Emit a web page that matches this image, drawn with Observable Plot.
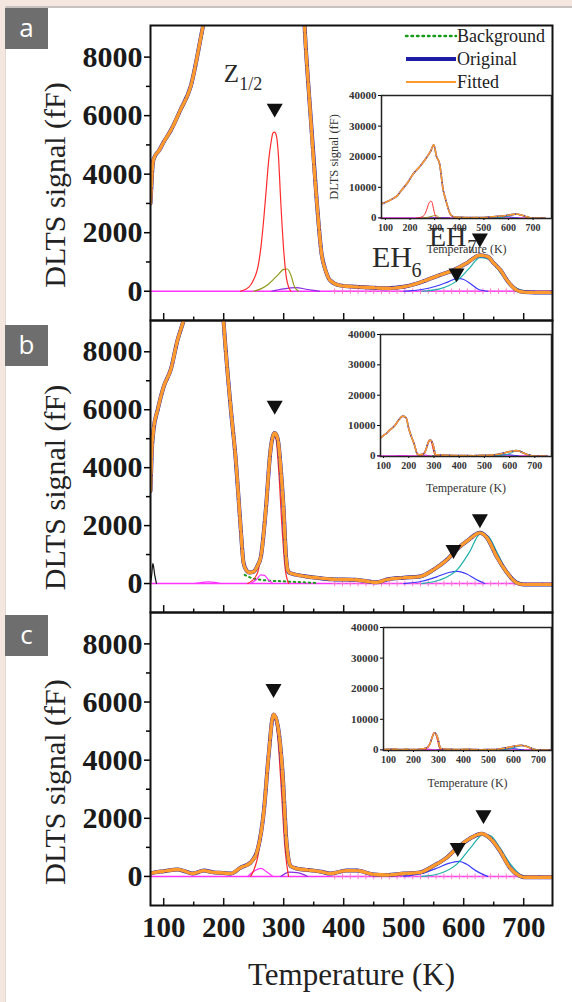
<!DOCTYPE html>
<html><head><meta charset="utf-8">
<script src="https://cdn.jsdelivr.net/npm/d3@7"></script>
<script src="https://cdn.jsdelivr.net/npm/@observablehq/plot@0.6"></script>
<style>
html,body{margin:0;padding:0;}
body{width:572px;height:1002px;background:#f4e7df;position:relative;overflow:hidden;font-family:"Liberation Serif","Times New Roman",serif;}
#card{position:absolute;left:5px;top:6px;right:0;bottom:0;background:#fff;border-top:2px solid #c8c2bf;border-left:1px solid #e2d8d2;}
.tag{position:absolute;left:5px;width:43px;height:41px;background:#6e6e6e;color:#fff;font:26px "Open Sans",sans-serif;text-align:center;line-height:38px;}
.abs{position:absolute;}
</style></head><body>
<div id="card"></div>
<div id="root"></div>
<script>
// ---------- scales / ticks ----------
const X_DOMAIN = [78, 748];
const Y_DOMAIN = [-1000, 9080];
const X_MAJOR = [100, 200, 300, 400, 500, 600, 700];
const X_MINOR = [150, 250, 350, 450, 550, 650];
const Y_MAJOR = [0, 2000, 4000, 6000, 8000];
const Y_MINOR = [1000, 3000, 5000, 7000];
const INSET_Y_TICKS = [0, 10000, 20000, 30000, 40000];
const INSET_X_TICKS = [100, 200, 300, 400, 500, 600, 700];
const Y_LABEL = "DLTS signal (fF)";
const X_LABEL = "Temperature (K)";
const PANEL_TAGS = ["a", "b", "c"];
const LEGEND_NAMES = ["Background", "Original", "Fitted"];

// ---------- colours ----------
const BLUE = "#1c1ca6", ORANGE = "#ff9a2e", RED = "#ff2b2b", MAGENTA = "#ff33ff",
      TEAL = "#1fb0a8", BLUE2 = "#3a3aff", OLIVE = "#8f9a1a", GREEN = "#1a9a1a",
      PURPLE = "#8a2be2", PINK = "#ff6fd0", BLACK = "#111";

// ---------- shared baseline ----------
const BASE_T = [78, 748];
const BASE_V = [0, 0];
const PLUS_T = [385, 398, 411, 424, 437, 450, 463, 476, 489, 502, 515, 528, 541, 554, 567, 580, 593, 606, 619, 632, 645, 658, 671, 684];

// ---------- panel a ----------
const aT = [78, 80, 82, 85, 92, 100, 112, 128, 145, 165, 190, 214, 240, 265, 285, 296, 308, 320, 335, 343, 355, 363, 370, 377, 393, 420, 450, 472, 500, 520, 538, 560, 583, 605, 627, 640, 650, 662, 672, 680, 688, 700, 720, 748];
const aV = [3000, 3800, 4400, 4600, 4800, 5100, 5500, 6200, 7000, 9000, 11500, 14500, 16800, 19500, 22000, 23900, 20000, 17700, 9000, 6500, 3100, 1300, 700, 380, 200, 150, 120, 100, 150, 250, 380, 550, 720, 960, 1230, 1180, 960, 700, 380, 180, 40, -30, -40, -40];
const aRedT = [228, 242, 250, 257, 262, 267, 271, 275, 279, 282, 285, 288, 291, 295, 300, 305, 312];
const aRedV = [0, 140, 400, 820, 1500, 2530, 3500, 4480, 5100, 5400, 5440, 5300, 4700, 3100, 1400, 400, 0];
const aOliveT = [250, 262, 275, 290, 300, 306, 312, 318, 325];
const aOliveV = [0, 80, 250, 550, 750, 760, 550, 150, 0];
const aPurpT = [280, 300, 320, 340, 360];
const aPurpV = [0, 80, 120, 60, 0];
const aEh6T = [500, 530, 555, 575, 590, 600, 612, 625, 640];
const aEh6V = [0, 60, 180, 330, 440, 400, 250, 60, 0];
const aEh7T = [530, 560, 590, 610, 627, 640, 655, 670, 690, 705];
const aEh7V = [0, 80, 380, 800, 1150, 1100, 800, 400, 80, 0];
const aTriT = [285, 588, 627];
const aTriV = [6250, 620, 1810];
// annotation labels (panel a)
const ANNO_TEXT = ["Z", "EH", "EH"];
const ANNO_T = [200, 447, 542];
const ANNO_V = [7145, 820, 1560];
const ANNO_SIZE = [25, 30, 28];
const SUB_TEXT = ["1/2", "6", "7"];
const SUB_T = [226, 513, 606];
const SUB_V = [6880, 500, 1300];
const SUB_SIZE = [18, 20, 19];

// ---------- panel b ----------
const bT = [78, 80, 83, 90, 100, 112, 123, 132, 145, 160, 177, 190, 200, 212, 220, 228, 233, 238, 243, 250, 256, 262, 270, 278, 285, 290, 295, 300, 304, 308, 315, 322, 338, 355, 380, 420, 455, 472, 500, 527, 550, 572, 588, 608, 627, 638, 655, 672, 688, 700, 748];
const bV = [3200, 4500, 5300, 6000, 6800, 7400, 8400, 9000, 10000, 11800, 13100, 12500, 9000, 6000, 4300, 2000, 720, 450, 380, 410, 600, 930, 2500, 4600, 5200, 5000, 4000, 2500, 900, 400, 330, 300, 240, 200, 150, 130, 40, 140, 200, 240, 480, 820, 1170, 1510, 1750, 1600, 930, 380, 30, -30, -30];
const bRedT = [240, 255, 265, 272, 278, 283, 287, 292, 297, 302, 308];
const bRedV = [0, 300, 1500, 3200, 4600, 5100, 5000, 3800, 2000, 600, 0];
const bPinkT = [245, 255, 262, 268, 275, 282];
const bPinkV = [0, 150, 300, 280, 120, 0];
const bMagT = [150, 165, 175, 185, 195];
const bMagV = [0, 40, 60, 40, 0];
const bBlkT = [78, 80, 82, 85, 88];
const bBlkV = [0, 300, 700, 300, 0];
const bBgT = [235, 245, 255, 265, 275, 285, 295, 305, 315, 325, 335, 345, 355];
const bBgV = [300, 200, 150, 120, 100, 90, 80, 70, 60, 50, 40, 30, 20];
const bEh6T = [500, 530, 555, 575, 590, 605, 620, 635];
const bEh6V = [0, 80, 230, 380, 420, 330, 150, 0];
const bEh7T = [530, 560, 590, 610, 627, 640, 655, 670, 688, 700];
const bEh7V = [0, 120, 500, 1100, 1700, 1650, 1100, 500, 80, 0];
const bTriT = [285, 583, 627];
const bTriV = [6150, 1170, 2230];

// ---------- panel c ----------
const cT = [78, 85, 100, 123, 135, 148, 167, 183, 200, 212, 228, 245, 257, 267, 275, 283, 290, 298, 305, 312, 322, 340, 350, 365, 377, 405, 422, 450, 472, 500, 527, 550, 572, 588, 610, 630, 643, 660, 677, 692, 700, 748];
const cV = [100, 140, 180, 240, 180, 100, 200, 140, 120, 100, 300, 480, 960, 2260, 4200, 5570, 5200, 3600, 1100, 350, 270, 220, 200, 150, 100, 200, 200, 70, 50, 100, 140, 370, 650, 960, 1300, 1470, 1330, 890, 300, 30, -30, -30];
const cRedT = [245, 258, 266, 274, 280, 285, 290, 296, 302, 308];
const cRedV = [0, 800, 2000, 4000, 5200, 5400, 4800, 3000, 1000, 0];
const cMagT = [240, 252, 262, 272, 282];
const cMagV = [0, 200, 280, 150, 0];
const cPurpT = [295, 310, 325, 340];
const cPurpV = [0, 150, 120, 0];
const cEh6T = [500, 530, 555, 575, 592, 605, 620, 640];
const cEh6V = [0, 100, 280, 450, 520, 420, 200, 0];
const cEh7T = [530, 560, 590, 612, 633, 645, 660, 677, 695, 705];
const cEh7V = [0, 100, 450, 1000, 1450, 1400, 1000, 450, 60, 0];
const cTriT = [283, 590, 633];
const cTriV = [6460, 990, 2120];

// ---------- helpers ----------
const pts = (T, V) => T.map((t, i) => ({T: t, v: V[i]}));
const FONT = '"Liberation Serif","Times New Roman",serif';

const panels = [
  {tag: "a", top: 0, h: 330, mt: 25, mb: 10, labelDy: 12, main: [aT, aV], tri: [aTriT, aTriV],
   comps: [
     {T: aPurpT, V: aPurpV, c: PURPLE},
     {T: aOliveT, V: aOliveV, c: OLIVE},
     {T: aRedT, V: aRedV, c: RED},
     {T: aEh6T, V: aEh6V, c: BLUE2},
     {T: aEh7T, V: aEh7V, c: TEAL}],
   inset: {left: 290, top: 85, w: 265, h: 175, ml: 91, mb: 42, xdom: [84, 775], tdy: 34, ylabel: true}},
  {tag: "b", top: 310, h: 312, mt: 10, mb: 10, labelDy: 21, main: [bT, bV], tri: [bTriT, bTriV],
   comps: [
     {T: bBgT, V: bBgV, c: GREEN, dash: "1.5,3.5", w: 2},
     {T: bMagT, V: bMagV, c: MAGENTA},
     {T: bBlkT, V: bBlkV, c: BLACK},
     {T: bPinkT, V: bPinkV, c: MAGENTA},
     {T: bRedT, V: bRedV, c: RED},
     {T: bEh6T, V: bEh6V, c: BLUE2},
     {T: bEh7T, V: bEh7V, c: TEAL}],
   inset: {left: 290, top: 324, w: 265, h: 180, ml: 90, mb: 48, xdom: [88, 766], tdy: 35, ylabel: false}},
  {tag: "c", top: 602, h: 400, mt: 10, mb: 97, labelDy: 23, main: [cT, cV], tri: [cTriT, cTriV], xaxis: true,
   comps: [
     {T: cMagT, V: cMagV, c: MAGENTA},
     {T: cPurpT, V: cPurpV, c: PURPLE},
     {T: cRedT, V: cRedV, c: RED},
     {T: cEh6T, V: cEh6V, c: BLUE2},
     {T: cEh7T, V: cEh7V, c: TEAL}],
   inset: {left: 290, top: 617, w: 265, h: 180, ml: 93, mb: 47, xdom: [80, 752], tdy: 36, ylabel: false}}
];

const root = document.getElementById("root");

function place(node, left, top) {
  const d = document.createElement("div");
  d.className = "abs";
  d.style.left = left + "px";
  d.style.top = top + "px";
  d.appendChild(node);
  root.appendChild(d);
}

panels.forEach((p, pi) => {
  const Y0 = Y_DOMAIN[0];
  const marks = [
    Plot.line(pts(BASE_T, BASE_V), {x: "T", y: "v", stroke: MAGENTA, strokeWidth: 1.4}),
    Plot.dot(PLUS_T.map(t => ({T: t, v: 0})), {x: "T", y: "v", symbol: "plus", r: 2, stroke: PINK, strokeWidth: 0.9}),
    ...p.comps.map(c => Plot.line(pts(c.T, c.V), {x: "T", y: "v", stroke: c.c, strokeWidth: c.w || 1.2,
      strokeDasharray: c.dash, strokeLinecap: c.dash ? "round" : undefined, curve: "monotone-x", clip: true})),
    Plot.line(pts(p.main[0], p.main[1]), {x: "T", y: "v", stroke: BLUE, strokeWidth: 4, curve: "monotone-x", clip: true}),
    Plot.line(pts(p.main[0], p.main[1]), {x: "T", y: "v", stroke: ORANGE, strokeWidth: 3.4, strokeDasharray: "14,2.5", curve: "monotone-x", clip: true}),
    Plot.dot(pts(p.tri[0], p.tri[1]), {x: "T", y: "v", symbol: "triangle", r: 5, rotate: 180, fill: BLACK, stroke: BLACK}),
    Plot.ruleX(X_MAJOR, {x: d => d, y1: Y0, y2: Y0 + 240, stroke: BLACK, strokeWidth: 1.5}),
    Plot.ruleX(X_MINOR, {x: d => d, y1: Y0, y2: Y0 + 120, stroke: BLACK, strokeWidth: 1.5}),
    Plot.axisY(Y_MAJOR, {tickSize: 6, tickPadding: 2, tickFormat: d => String(d), fontSize: 30, fontWeight: "bold", strokeWidth: 1.5, label: null, fill: "#1a1a1a"}),
    Plot.axisY(Y_MINOR, {tickSize: 4, tickFormat: () => "", strokeWidth: 1.5, label: null}),
    Plot.text([Y_LABEL], {text: d => d, frameAnchor: "left", textAnchor: "middle", lineAnchor: "middle", rotate: -90, dx: -95, dy: p.labelDy, fontSize: 30, fill: "#222"}),
    Plot.frame({stroke: BLACK, strokeWidth: 2})
  ];
  if (pi === 0) {
    marks.push(
      Plot.text(ANNO_TEXT.map((t, i) => ({t, T: ANNO_T[i], v: ANNO_V[i], s: ANNO_SIZE[i]})),
        {x: "T", y: "v", text: "t", fontSize: d => d.s, textAnchor: "start", lineAnchor: "bottom", fill: "#2a2a2a"}),
      Plot.text(SUB_TEXT.map((t, i) => ({t, T: SUB_T[i], v: SUB_V[i], s: SUB_SIZE[i]})),
        {x: "T", y: "v", text: "t", fontSize: d => d.s, textAnchor: "start", lineAnchor: "bottom", fill: "#2a2a2a"})
    );
  }
  if (p.xaxis) {
    marks.push(
      Plot.axisX(X_MAJOR, {tickSize: 0, tickPadding: 11, tickFormat: d => String(d), fontSize: 29, fontWeight: "bold", label: null, fill: "#1a1a1a"}),
      Plot.text([X_LABEL], {text: d => d, frameAnchor: "bottom", dy: 79, lineAnchor: "bottom", fontSize: 31, fill: "#222"})
    );
  }
  const svg = Plot.plot({
    width: 572, height: p.h,
    marginLeft: 150, marginRight: 20, marginTop: p.mt, marginBottom: p.mb,
    x: {domain: X_DOMAIN, axis: null},
    y: {domain: Y_DOMAIN, axis: null},
    style: {background: "transparent", fontFamily: FONT, overflow: "visible"},
    marks
  });
  place(svg, 0, p.top);
});

// insets
panels.forEach((p, pi) => {
  const I = p.inset;
  const marks = [
    Plot.frame({fill: "white", stroke: null}),
    Plot.line(pts(BASE_T, BASE_V), {x: "T", y: "v", stroke: MAGENTA, strokeWidth: 1.5}),
    ...p.comps.map(c => Plot.line(pts(c.T, c.V), {x: "T", y: "v", stroke: c.c, strokeWidth: 1,
      strokeDasharray: c.dash, curve: "monotone-x", clip: true})),
    Plot.line(pts(p.main[0], p.main[1]), {x: "T", y: "v", stroke: BLUE, strokeWidth: 1.6, curve: "monotone-x", clip: true}),
    Plot.line(pts(p.main[0], p.main[1]), {x: "T", y: "v", stroke: ORANGE, strokeWidth: 1.6, strokeDasharray: "7,2", curve: "monotone-x", clip: true}),
    Plot.axisY(INSET_Y_TICKS, {tickSize: 3, tickPadding: 2, tickFormat: d => String(d), fontSize: 11, fontWeight: "bold", label: null, fill: "#333"}),
    Plot.axisX(INSET_X_TICKS, {tickSize: 2, tickPadding: 3, tickFormat: d => String(d), fontSize: 10, fontWeight: "bold", label: null, fill: "#333"}),
    Plot.text([X_LABEL], {text: d => d, frameAnchor: "bottom", textAnchor: "middle", dy: I.tdy, lineAnchor: "bottom", fontSize: 12, fill: "#333"}),
    Plot.frame({stroke: "#222", strokeWidth: 1.5})
  ];
  if (I.ylabel) marks.push(Plot.text([Y_LABEL], {text: d => d, frameAnchor: "left", textAnchor: "middle", lineAnchor: "middle", rotate: -90, dx: -48, fontSize: 12.5, fill: "#333"}));
  const svg = Plot.plot({
    width: I.w, height: I.h,
    marginLeft: I.ml, marginRight: 4, marginTop: 10, marginBottom: I.mb,
    x: {domain: I.xdom, axis: null},
    y: {domain: [-200, 40000], axis: null},
    style: {background: "transparent", fontFamily: FONT, overflow: "visible"},
    marks
  });
  place(svg, I.left, I.top);
});

// legend (panel a)
const LEGEND_COLORS = [GREEN, BLUE, ORANGE];
const LEGEND_W = [2.5, 4, 2];
const LEGEND_DASH = ["1.5,4", null, null];
const leg = d3.create("svg").attr("width", 160).attr("height", 72);
LEGEND_NAMES.forEach((name, i) => {
  const y = 12 + i * 23;
  leg.append("line").attr("x1", 6).attr("x2", 56).attr("y1", y).attr("y2", y)
    .attr("stroke", LEGEND_COLORS[i]).attr("stroke-width", LEGEND_W[i])
    .attr("stroke-dasharray", LEGEND_DASH[i]).attr("stroke-linecap", LEGEND_DASH[i] ? "round" : "butt");
  leg.append("text").attr("x", 57).attr("y", y + 6).attr("font-size", 18)
    .attr("font-family", FONT).attr("fill", "#222").text(name);
});
place(leg.node(), 400, 24);

// panel tags
const TAG_TOPS = [8, 325, 615];
PANEL_TAGS.forEach((t, i) => {
  const d = document.createElement("div");
  d.className = "tag";
  d.style.top = TAG_TOPS[i] + "px";
  d.textContent = t;
  root.appendChild(d);
});
</script>
</body></html>
